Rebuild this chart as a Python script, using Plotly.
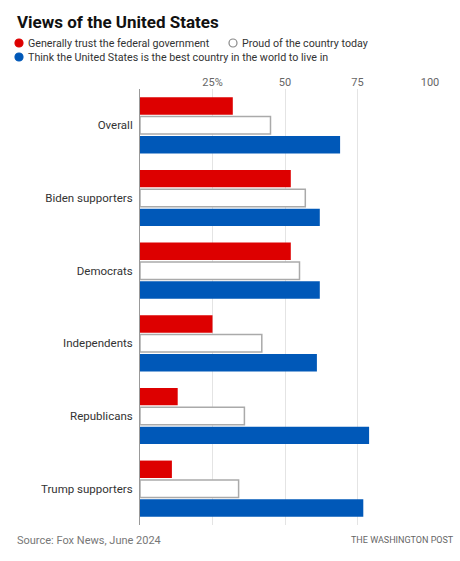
import plotly.graph_objects as go

categories = ["Overall", "Biden supporters", "Democrats", "Independents", "Republicans", "Trump supporters"]
trust_gov = [32, 52, 52, 25, 13, 11]
proud = [45, 57, 55, 42, 36, 34]
best_country = [69, 62, 62, 61, 79, 77]
series_names = [
    "Generally trust the federal government",
    "Proud of the country today",
    "Think the United States is the best country in the world to live in",
]
tick_vals = [0, 25, 50, 75, 100]
tick_text = ["", "25%", "50", "75", "100"]

RED = "#dd0000"
BLUE = "#0058b8"
FONT = "Roboto"

fig = go.Figure()
fig.add_trace(go.Bar(y=categories, x=trust_gov, orientation="h", name=series_names[0],
                     marker=dict(color=RED, line=dict(width=0))))
fig.add_trace(go.Bar(y=categories, x=proud, orientation="h", name=series_names[1],
                     marker=dict(color="#ffffff", line=dict(color="#aaaaaa", width=1.5))))
fig.add_trace(go.Bar(y=categories, x=best_country, orientation="h", name=series_names[2],
                     marker=dict(color=BLUE, line=dict(width=0))))

W, H = 460, 561
ML, MR, MT, MB = 140, 30, 89, 36

fig.update_layout(
    width=W, height=H,
    margin=dict(l=ML, r=MR, t=MT, b=MB),
    paper_bgcolor="white", plot_bgcolor="white",
    barmode="group", bargap=0.2, bargroupgap=0.1,
    showlegend=False,
    font=dict(family=FONT, color="#333"),
    xaxis=dict(range=[0, 100], side="top", tickvals=tick_vals, ticktext=tick_text,
               showgrid=True, gridcolor="#e4e4e4", gridwidth=1, zeroline=False,
               ticks="", tickfont=dict(size=11, color="#666666", family=FONT), fixedrange=True),
    yaxis=dict(categoryorder="array", categoryarray=categories, autorange="reversed",
               showline=True, linecolor="#999", linewidth=1, showgrid=False, ticks="",
               tickfont=dict(size=11.5, color="#333", family=FONT), ticklabelstandoff=4,
               fixedrange=True),
)


def px_x(x):
    return (x - ML) / (W - ML - MR)


def px_y(y):
    return 1 - (y - MT) / (H - MT - MB)


# Title
fig.add_annotation(text="<b>Views of the United States</b>", x=px_x(15), y=px_y(22),
                   xref="paper", yref="paper", showarrow=False, xanchor="left", yanchor="middle",
                   font=dict(size=17, color="#111", family=FONT))

# Legend (manual)
legend_items = [
    (series_names[0], 19, 43, RED, RED),
    (series_names[1], 233, 43, "#ffffff", "#888888"),
    (series_names[2], 19, 57, BLUE, BLUE),
]

for text, cx, cy, fill, edge in legend_items:
    r = 4
    fig.add_shape(type="circle", xref="paper", yref="paper",
                  x0=px_x(cx - r), x1=px_x(cx + r), y0=px_y(cy + r), y1=px_y(cy - r),
                  fillcolor=fill, line=dict(color=edge, width=1.2))
    fig.add_annotation(text=text, x=px_x(cx + 7), y=px_y(cy), xref="paper", yref="paper",
                       showarrow=False, xanchor="left", yanchor="middle",
                       font=dict(size=10.7, color="#333", family=FONT))

# Footer
fig.add_annotation(text="Source: Fox News, June 2024", x=px_x(15), y=px_y(540), xref="paper", yref="paper",
                   showarrow=False, xanchor="left", yanchor="middle",
                   font=dict(size=11, color="#777", family=FONT))
fig.add_annotation(text="THE WASHINGTON POST", x=px_x(456), y=px_y(540), xref="paper", yref="paper",
                   showarrow=False, xanchor="right", yanchor="middle",
                   font=dict(size=9, color="#666", family=FONT))

fig.write_html("out.html", config={"displayModeBar": False},
               post_script="document.body.style.margin='0';")
